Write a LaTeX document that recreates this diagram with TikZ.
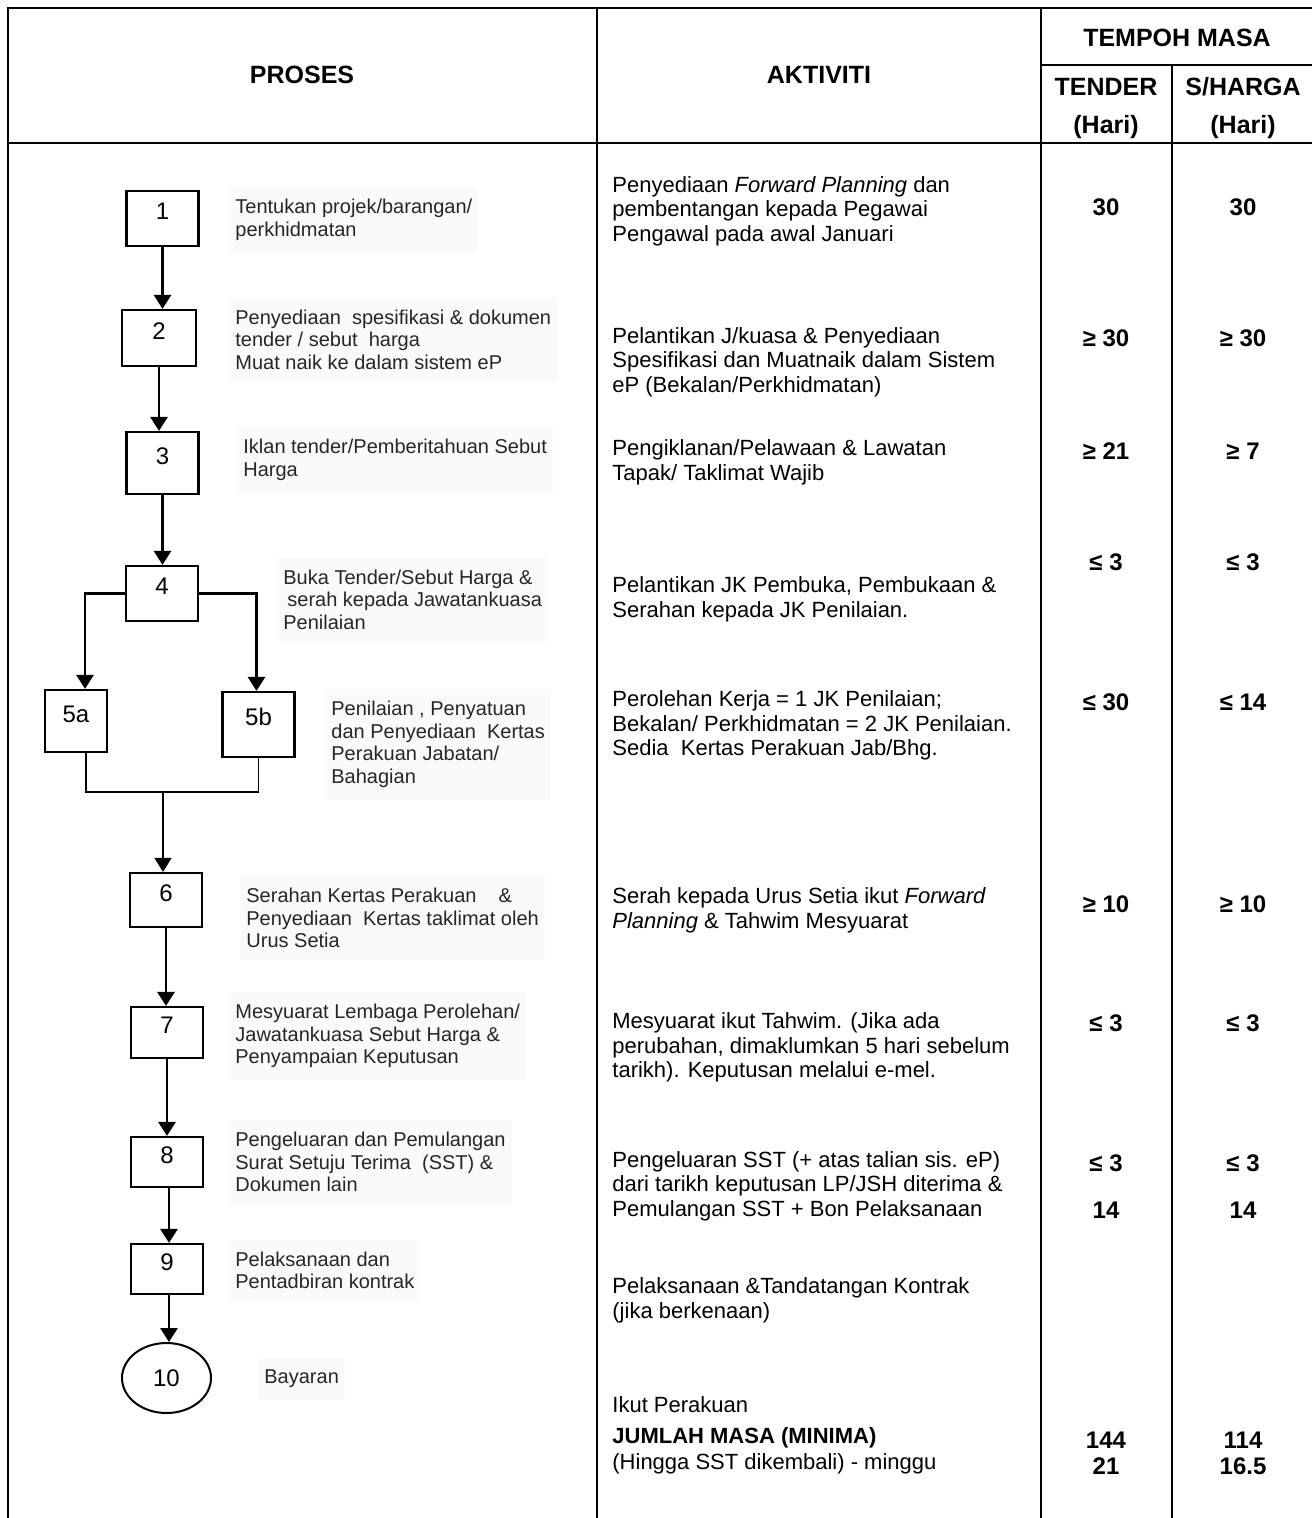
\documentclass[tikz,border=0pt]{standalone}
\usepackage{fontspec}
\setmainfont{Liberation Sans}
\usetikzlibrary{arrows.meta,positioning,shapes.geometric}
\tikzset{procbox/.style={draw, line width=1.1pt, minimum width=36pt, minimum height=27.5pt, inner sep=1pt, font=\fontsize{12}{14}\selectfont, text height=9pt, text depth=7.9pt},
  endproc/.style={ellipse, draw, line width=1pt, minimum width=44.5pt, minimum height=35pt, inner sep=0pt, font=\fontsize{12}{14}\selectfont},
  flow/.style={line width=1.4pt, -{Triangle[width=8.5pt, length=7pt]}},
  merge/.style={line width=0.9pt},
  lbl/.style={anchor=west, align=left, fill=black!2, text=black!85, inner xsep=3pt, inner ysep=6pt, font=\fontsize{10}{11.3}\selectfont},
  akt/.style={anchor=west, align=left, inner sep=0pt, font=\fontsize{11}{12.3}\selectfont},
  hari/.style={font=\bfseries\fontsize{12}{14}\selectfont, inner sep=0pt},
  head/.style={font=\bfseries\fontsize{12.5}{14}\selectfont, inner sep=0pt}}

\begin{document}
\begin{tikzpicture}[x=0.5pt, y=-0.5pt]
  \useasboundingbox (0,0) rectangle (1312,1518);
  % table frame
  \draw[line width=1.4pt] (8,1518) -- (8,8) -- (1312,8);
  \draw[line width=1.2pt] (8,143) -- (1312,143);
  \draw[line width=0.7pt] (597,8) -- (597,1518);
  \draw[line width=1pt] (1041,8) -- (1041,1518);
  \draw[line width=1pt] (1172,65) -- (1172,1518);
  \draw[line width=1pt] (1041,65) -- (1312,65);

  % headings
  \node[head] (hproses) at (302,75) {PROSES};
  \node[head] (haktiviti) at (819,75) {AKTIVITI};
  \node[head] (htempoh) at (1177,38) {TEMPOH MASA};
  \node[head] (htender) at (1106,87) {TENDER};
  \node[head] (hsharga) at (1243,87) {S/HARGA};
  \node[head] (hhari1) at (1106,127) {(Hari)};
  \node[head] (hhari2) at (1243,127) {(Hari)};

  % process boxes
  \node[procbox] (b1) at (162.5,218.5) {1};
  \node[procbox, minimum width=37pt, minimum height=28pt] (b2) at (159,338) {2};
  \node[procbox, minimum height=31pt] (b3) at (162.5,463) {3};
  \node[procbox] (b4) at (162,593.5) {4};
  \node[procbox, minimum width=31pt, minimum height=31pt] (b5a) at (76,721) {5a};
  \node[procbox, minimum height=32.5pt] (b5b) at (258.5,724.5) {5b};
  \node[procbox, minimum height=27pt] (b6) at (166,900) {6};
  \node[procbox, minimum height=25.5pt] (b7) at (167,1032.5) {7};
  \node[procbox, minimum height=25pt] (b8) at (167,1162) {8};
  \node[procbox, minimum height=25pt] (b9) at (167,1269) {9};
  \node[endproc] (b10) at (166.5,1378) {10};

  % process labels
  \node[lbl] (l1) at (229,220) {Tentukan projek/barangan/\\perkhidmatan};
  \node[lbl] (l2) at (229,339.5) {Penyediaan~ spesifikasi \& dokumen\\tender / sebut~ harga\\Muat naik ke dalam sistem eP};
  \node[lbl] (l3) at (237,460) {Iklan tender/Pemberitahuan Sebut\\Harga};
  \node[lbl] (l4) at (277,599.5) {Buka Tender/Sebut Harga \&\\\hspace{2pt}serah kepada Jawatankuasa\\Penilaian};
  \node[lbl] (l5) at (325,744.5) {Penilaian , Penyatuan\\dan Penyediaan~ Kertas\\Perakuan Jabatan/\\Bahagian};
  \node[lbl] (l6) at (240,918) {Serahan Kertas Perakuan~~~ \&\\Penyediaan~ Kertas taklimat oleh\\Urus Setia};
  \node[lbl] (l7) at (229,1036) {Mesyuarat Lembaga Perolehan/\\Jawatankuasa Sebut Harga \&\\Penyampaian Keputusan};
  \node[lbl] (l8) at (229,1162) {Pengeluaran dan Pemulangan\\Surat Setuju Terima~ (SST) \&\\Dokumen lain};
  \node[lbl] (l9) at (229,1270.5) {Pelaksanaan dan\\Pentadbiran kontrak};
  \node[lbl] (l10) at (258,1379) {Bayaran};

  % flow
  \draw[flow] (b1.south) -- (b1.south |- b2.north);
  \draw[flow] (b2.south) -- (b2.south |- b3.north);
  \draw[flow] (b3.south) -- (b3.south |- b4.north);
  \draw[flow] (b4.west) -| ([xshift=4.5pt]b5a.north);
  \draw[flow] (b4.east) -| ([xshift=-1pt]b5b.north);
  \coordinate (jn) at (163,792);
  \draw[merge] ([xshift=5pt]b5a.south) |- (b5b.south |- jn) -- (b5b.south);
  \draw[merge, -{Triangle[width=8.5pt, length=7pt]}] (jn) -- (jn |- b6.north);
  \draw[flow] (b6.south) -- (b6.south |- b7.north);
  \draw[flow] (b7.south) -- (b7.south |- b8.north);
  \draw[flow] ([xshift=1pt]b8.south) -- ([xshift=1pt]b8.south |- b9.north);
  \draw[flow] ([xshift=1pt]b9.south) -- ([xshift=1pt]b9.south |- b10.north);

  % aktiviti
  \node[akt] (a1) at (612,211) {Penyediaan \textit{Forward Planning} dan\\pembentangan kepada Pegawai\\Pengawal pada awal Januari};
  \node[akt] (a2) at (612,362) {Pelantikan J/kuasa \& Penyediaan\\Spesifikasi dan Muatnaik dalam Sistem\\eP (Bekalan/Perkhidmatan)};
  \node[akt] (a3) at (612,462.5) {Pengiklanan/Pelawaan \& Lawatan\\Tapak/ Taklimat Wajib};
  \node[akt] (a4) at (612,599.5) {Pelantikan JK Pembuka, Pembukaan \&\\Serahan kepada JK Penilaian.};
  \node[akt] (a5) at (612,725.5) {Perolehan Kerja = 1 JK Penilaian;\\Bekalan/ Perkhidmatan = 2 JK Penilaian.\\Sedia~ Kertas Perakuan Jab/Bhg.};
  \node[akt] (a6) at (612,910.5) {Serah kepada Urus Setia ikut \textit{Forward}\\\textit{Planning} \& Tahwim Mesyuarat};
  \node[akt] (a7) at (612,1047.5) {Mesyuarat ikut Tahwim. (Jika ada\\perubahan, dimaklumkan 5 hari sebelum\\tarikh). Keputusan melalui e-mel.};
  \node[akt] (a8) at (612,1186) {Pengeluaran SST (+ atas talian sis. eP)\\dari tarikh keputusan LP/JSH diterima \&\\Pemulangan SST + Bon Pelaksanaan};
  \node[akt] (a9) at (612,1300) {Pelaksanaan \&Tandatangan Kontrak\\(jika berkenaan)};
  \node[akt] (a10) at (612,1405) {Ikut Perakuan};
  \node[akt, font=\bfseries\fontsize{11}{12.3}\selectfont] (a11) at (612,1438) {JUMLAH MASA (MINIMA)};
  \node[akt] (a12) at (612,1464) {(Hingga SST dikembali) - minggu};

  % tempoh masa
  \foreach \yy/\tn/\sn [count=\i] in {207/30/30, 338/≥ 30/≥ 30, 451/≥ 21/≥ 7, 562/≤ 3/≤ 3, 702/≤ 30/≤ 14, 904/≥ 10/≥ 10, 1023/≤ 3/≤ 3, 1163/≤ 3/≤ 3, 1210/14/14, 1440/144/114, 1466/21/16.5}
  {
    \node[hari] (tn\i) at (1106,\yy) {\tn};
    \node[hari] (sn\i) at (1243,\yy) {\sn};
  }
\end{tikzpicture}
\end{document}
